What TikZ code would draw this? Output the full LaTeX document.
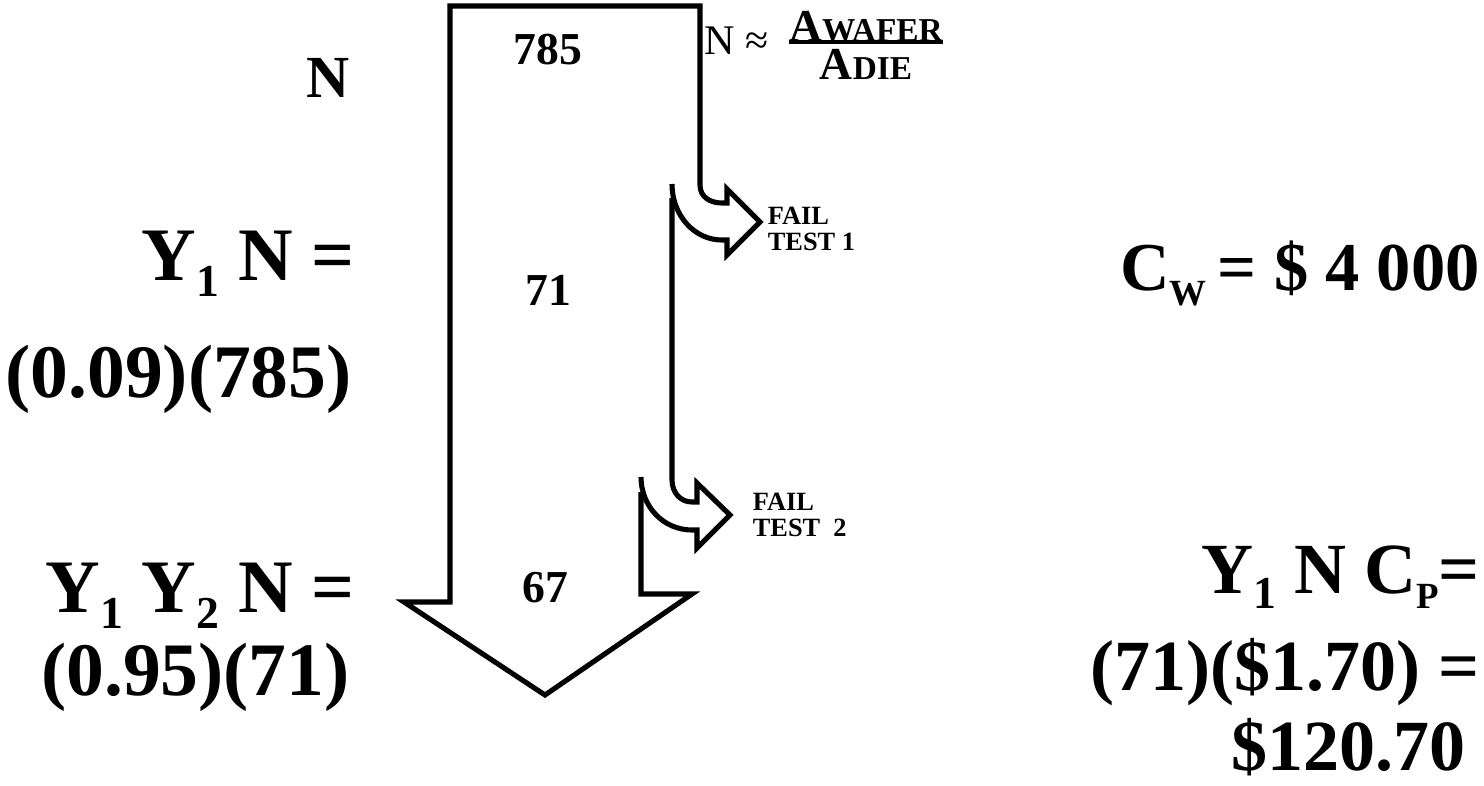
\documentclass[tikz,border=0pt]{standalone}
\usepackage{fontspec}
\setmainfont{Liberation Serif}
\usetikzlibrary{positioning}

\newcommand{\lowsub}[1]{\raisebox{-0.22em}{\fontsize{26}{26}\selectfont #1}}
\newcommand{\smallsub}[1]{\raisebox{-0.22em}{\fontsize{21}{21}\selectfont #1}}

\begin{document}
\begin{tikzpicture}[x=0.02cm, y=-0.02cm,
    % --- STYLES ---
    flow/.style={draw, line width=2.9pt, line join=miter},
    big/.style={font=\fontsize{43}{46}\selectfont\bfseries, inner sep=0pt},
    bigright/.style={font=\fontsize{41}{44}\selectfont\bfseries, inner sep=0pt},
    count/.style={font=\fontsize{26}{28}\selectfont\bfseries, inner sep=0pt},
    fail/.style={font=\fontsize{15}{14.5}\selectfont\bfseries, align=left, inner sep=0pt},
    formula/.style={font=\fontsize{26}{26}\selectfont\bfseries, inner sep=0pt}
]
    \clip (0,0) rectangle (1484,785);

    % --- FLOW OUTLINE ---
    \coordinate (tip1) at (760,222);
    \coordinate (tip2) at (730,515);
    \coordinate (tipmain) at (545,695);

    % main arrow with the first branch
    \draw[flow] (641,492) -- (641,594) -- (692,594) -- (tipmain) -- (404,602) -- (450,602)
        -- (450,6) -- (700,6) -- (700,185)
        .. controls (700,197) and (710,203) .. (722,203) -- (727,203) -- (727,189)
        -- (tip1) -- (727,255) -- (727,240) -- (722,240)
        .. controls (694,240) and (672,215) .. (672,184);
    % second branch
    \draw[flow] (672,198) -- (672,480)
        .. controls (672,492) and (680,502) .. (692,502) -- (697,502) -- (697,483)
        -- (tip2) -- (697,548) -- (697,530) -- (692,530)
        .. controls (663,530) and (641,506) .. (641,477);

    % --- NODES ---
    \node[count] (n785) at (548,50) {785};
    \node[count] (n71) at (548,290) {71};
    \node[count] (n67) at (545,588) {67};

    \node[formula, font=\fontsize{24}{24}\selectfont, anchor=base west] (approx) at (704,54) {N ≈};
    \node[formula, anchor=south] (num) at (866,42) {A{\fontsize{19}{19}\selectfont WAFER}};
    \node[formula, anchor=north] (den) at (866,49) {A{\fontsize{19}{19}\selectfont DIE}};
    \draw[line width=2.3pt] (num.south west) -- (num.south east);

    \node[fail, right=0.15cm of tip1, yshift=-4pt] (fail1) {FAIL\\TEST 1};
    \node[fail, right=0.45cm of tip2] (fail2) {FAIL\\TEST~~2};

    % left column
    \node[big, font=\fontsize{34}{36}\selectfont\bfseries, anchor=base east] (nleft) at (350,97) {N};
    \node[big, anchor=base east] (y1n) at (355,280) {Y\lowsub{1} N =};
    \node[big, anchor=base east] (y1nval) at (352,397) {(0.09)(785)};
    \node[big, anchor=base east] (y1y2n) at (355,612) {Y\lowsub{1} Y\lowsub{2} N =};
    \node[big, anchor=base east] (y1y2nval) at (350,695) {(0.95)(71)};

    % right column
    \node[bigright, font=\fontsize{39}{42}\selectfont\bfseries, anchor=base east] (cw) at (1480,290) {C\smallsub{W}\,= \$ 4 000};
    \node[bigright, anchor=base east] (y1ncp) at (1480,593) {Y\lowsub{1} N C\smallsub{P}=};
    \node[bigright, anchor=base east] (y1ncpval) at (1480,690) {(71)(\$1.70) =};
    \node[bigright, anchor=base east] (cost) at (1466,770) {\$120.70};

\end{tikzpicture}
\end{document}
